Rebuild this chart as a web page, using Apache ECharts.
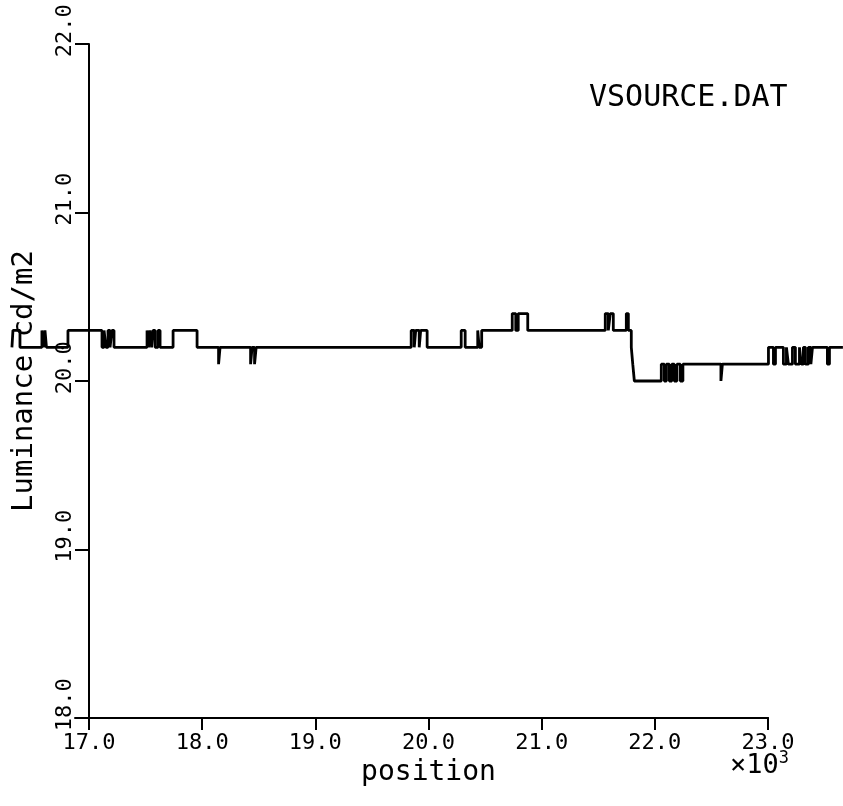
<!DOCTYPE html>
<html>
<head>
<meta charset="utf-8">
<script src="https://cdn.jsdelivr.net/npm/echarts@6/dist/echarts.min.js"></script>
<style>
  html, body { margin: 0; padding: 0; background: #fff; }
  #chart { width: 843px; height: 806px; }
</style>
</head>
<body>
<div id="chart"></div>
<script>
// Stepped luminance readings from VSOURCE.DAT: each level holds until the next position.
const positions = [
  16319, 16328, 16390, 16584, 16598, 16611, 16624, 16814,
  17115, 17133, 17150, 17168, 17186, 17203, 17221,
  17513, 17526, 17539, 17553, 17566, 17584, 17610, 17628, 17743, 17955,
  18145, 18158, 18428, 18441, 18463, 18477,
  19847, 19874, 19887, 19918, 19931, 19988,
  20289, 20324, 20435, 20448, 20470, 20740, 20771, 20793, 20877,
  21562, 21589, 21606, 21633, 21748, 21766, 21792, 21805, 21819,
  22057, 22084, 22102, 22128, 22150, 22172, 22195, 22225, 22248,
  22584, 22597,
  23004, 23048, 23066, 23136, 23163, 23180, 23216, 23242, 23278,
  23295, 23313, 23331, 23357, 23379, 23393, 23525, 23543, 23662
];
const luminance = [
  20.2, 20.3, 20.2, 20.3, 20.2, 20.3, 20.2, 20.3,
  20.2, 20.3, 20.2, 20.3, 20.2, 20.3, 20.2,
  20.3, 20.2, 20.3, 20.2, 20.3, 20.2, 20.3, 20.2, 20.3, 20.2,
  20.1, 20.2, 20.1, 20.2, 20.1, 20.2,
  20.3, 20.2, 20.3, 20.2, 20.3, 20.2,
  20.3, 20.2, 20.3, 20.2, 20.3, 20.4, 20.3, 20.4, 20.3,
  20.4, 20.3, 20.4, 20.3, 20.4, 20.3, 20.2, 20.1, 20.0,
  20.1, 20.0, 20.1, 20.0, 20.1, 20.0, 20.1, 20.0, 20.1,
  20.0, 20.1,
  20.2, 20.1, 20.2, 20.1, 20.2, 20.1, 20.2, 20.1, 20.2,
  20.1, 20.2, 20.1, 20.2, 20.1, 20.2, 20.1, 20.2, 20.2
];
const xTickValues = [17000, 18000, 19000, 20000, 21000, 22000, 23000];
const yTickValues = [18, 19, 20, 21, 22];

const FONT = '"DejaVu Sans Mono", monospace';
const INK = '#000';

// Plot frame in pixels; the trace runs past the labelled axis range on both sides,
// so it gets its own full-width grid with the same scale as the labelled axes.
const FRAME = { left: 89, right: 75, top: 44, bottom: 88 };
const CANVAS_W = 843;
const xMin = xTickValues[0];
const xMax = xTickValues[xTickValues.length - 1];
const pxPerUnit = (CANVAS_W - FRAME.left - FRAME.right) / (xMax - xMin);
const traceMin = xMin - FRAME.left / pxPerUnit;
const traceMax = xMax + FRAME.right / pxPerUnit;

const chart = echarts.init(document.getElementById('chart'), null, { renderer: 'canvas' });

chart.setOption({
  animation: false,
  backgroundColor: '#fff',
  title: {
    text: 'VSOURCE.DAT',
    left: 584,
    top: 78,
    textStyle: { fontFamily: FONT, fontSize: 30, fontWeight: 'normal', color: INK }
  },
  grid: [
    { left: FRAME.left, right: FRAME.right, top: FRAME.top, bottom: FRAME.bottom },
    { left: 75, right: FRAME.right, top: FRAME.top, bottom: FRAME.bottom },
    { left: 0, right: 0, top: FRAME.top, bottom: FRAME.bottom }
  ],
  xAxis: [
    {
      type: 'value',
      gridIndex: 0,
      min: xMin,
      max: xMax,
      interval: 1000,
      name: 'position',
      nameLocation: 'middle',
      nameGap: 32,
      nameTextStyle: { fontFamily: FONT, fontSize: 28, color: INK },
      axisLine: { show: true, lineStyle: { color: INK, width: 2 } },
      axisTick: { show: true, inside: false, length: 12, lineStyle: { color: INK, width: 2 } },
      axisLabel: {
        show: true, margin: 14, color: INK, fontFamily: FONT, fontSize: 22,
        formatter: v => (v / 1000).toFixed(1)
      },
      splitLine: { show: false }
    },
    {
      type: 'value',
      gridIndex: 1,
      min: 0, max: 1,
      axisLine: { show: true, lineStyle: { color: INK, width: 2 } },
      axisTick: { show: false },
      axisLabel: { show: false },
      splitLine: { show: false }
    },
    {
      type: 'value',
      gridIndex: 2,
      show: false,
      min: traceMin,
      max: traceMax
    }
  ],
  yAxis: [
    {
      type: 'value',
      gridIndex: 0,
      min: yTickValues[0],
      max: yTickValues[yTickValues.length - 1],
      interval: 1,
      name: 'Luminance cd/m2',
      nameLocation: 'middle',
      nameGap: 50,
      nameTextStyle: { fontFamily: FONT, fontSize: 29, color: INK },
      axisLine: { show: true, lineStyle: { color: INK, width: 2 } },
      axisTick: { show: true, inside: false, length: 14, lineStyle: { color: INK, width: 2 } },
      axisLabel: {
        show: true, margin: 13, rotate: 90, color: INK, fontFamily: FONT, fontSize: 22,
        formatter: v => '  ' + v.toFixed(1)
      },
      splitLine: { show: false }
    },
    {
      type: 'value',
      gridIndex: 1,
      show: false,
      min: 0, max: 1
    },
    {
      type: 'value',
      gridIndex: 2,
      show: false,
      min: yTickValues[0],
      max: yTickValues[yTickValues.length - 1]
    }
  ],
  graphic: [
    {
      type: 'text',
      left: 730,
      top: 750,
      style: {
        text: '×10{sup|3}',
        fontFamily: FONT,
        fontSize: 27,
        fill: INK,
        rich: {
          sup: { fontFamily: FONT, fontSize: 17, verticalAlign: 'top', padding: [0, 0, 14, 0] }
        }
      }
    }
  ],
  series: [
    {
      type: 'line',
      xAxisIndex: 2,
      yAxisIndex: 2,
      step: 'end',
      showSymbol: false,
      symbol: 'none',
      lineStyle: { color: INK, width: 2.8 },
      data: positions.map((p, i) => [p, luminance[i]])
    }
  ]
});
</script>
</body>
</html>
